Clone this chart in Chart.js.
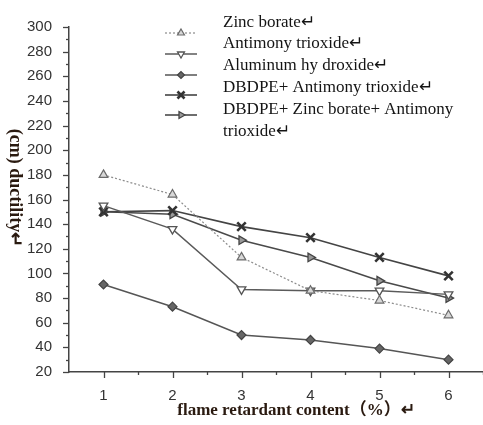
<!DOCTYPE html>
<html>
<head>
<meta charset="utf-8">
<script src="https://cdn.jsdelivr.net/npm/chart.js@4.4.1/dist/chart.umd.min.js"></script>
<style>
  html, body { margin: 0; padding: 0; background: #fff; }
  #wrap { position: relative; width: 483px; height: 425px; }
</style>
</head>
<body>
<div id="wrap"><canvas id="chart"></canvas></div>
<script>
// flame retardant content (%)
const contents = [1, 2, 3, 4, 5, 6];
const yTicks = [20, 40, 60, 80, 100, 120, 140, 160, 180, 200, 220, 240, 260, 280, 300];

const seriesNames = [
  "Zinc borate↵",
  "Antimony trioxide↵",
  "Aluminum hy droxide↵",
  "DBDPE+ Antimony trioxide↵",
  "DBDPE+ Zinc borate+ Antimony"
];
const zincBorate = [180, 164, 113, 86, 78, 66];
const antimonyTrioxide = [155, 136, 87, 86, 86, 83];
const aluminumHydroxide = [91, 73, 50, 46, 39, 30];
const dbdpeAntimony = [150, 151, 138, 129, 113, 98];
const dbdpeZincAntimony = [150, 148, 127, 113, 94, 80];

const toPoints = arr => arr.map((v, i) => ({ x: contents[i], y: v }));

const serif = '"Liberation Serif", "Times New Roman", "Noto Sans CJK SC", serif';
const sans = '"Liberation Sans", Arial, sans-serif';

// tick marks, legend and axis titles
const decorations = {
  id: "decorations",
  afterDraw(chart) {
    const ctx = chart.ctx;
    const xs = chart.scales.x, ys = chart.scales.y;
    const area = chart.chartArea;
    ctx.save();
    ctx.strokeStyle = "#444";
    ctx.lineWidth = 1.3;
    for (let v = 20; v <= 300; v += 10) {
      const y = Math.round(ys.getPixelForValue(v)) + 0.5;
      const len = v % 20 === 0 ? 6 : 3;
      ctx.beginPath();
      ctx.moveTo(area.left - len, y);
      ctx.lineTo(area.left, y);
      ctx.stroke();
    }
    for (let v = 1; v <= 6.5; v += 0.5) {
      const x = Math.round(xs.getPixelForValue(v)) + 0.5;
      const len = v % 1 === 0 ? 6 : 3;
      ctx.beginPath();
      ctx.moveTo(x, area.bottom);
      ctx.lineTo(x, area.bottom + len);
      ctx.stroke();
    }

    // legend
    const symY = [33, 54, 75, 95, 115];
    const textY = [23, 44, 66, 88, 110];
    chart.data.datasets.forEach((ds, i) => {
      ctx.save();
      ctx.strokeStyle = ds.borderColor;
      ctx.lineWidth = ds.borderWidth;
      ctx.setLineDash(ds.borderDash || []);
      ctx.beginPath();
      ctx.moveTo(165, symY[i]);
      ctx.lineTo(197, symY[i]);
      ctx.stroke();
      ctx.setLineDash([]);
      ctx.fillStyle = ds.pointBackgroundColor;
      ctx.strokeStyle = ds.pointBorderColor;
      ctx.lineWidth = ds.pointBorderWidth;
      Chart.helpers.drawPoint(ctx, {
        pointStyle: ds.pointStyle,
        rotation: ds.pointRotation || 0,
        radius: ds.pointRadius - 1,
        borderWidth: ds.pointBorderWidth
      }, 181, symY[i]);
      ctx.restore();
      ctx.fillStyle = "#141414";
      ctx.font = "17px " + serif;
      ctx.textBaseline = "middle";
      ctx.fillText(seriesNames[i], 223, textY[i]);
    });
    ctx.fillStyle = "#141414";
    ctx.font = "17px " + serif;
    ctx.textBaseline = "middle";
    ctx.fillText("trioxide↵", 223, 132);

    // axis titles
    ctx.font = "bold 17px " + serif;
    ctx.fillStyle = "#2a1a10";
    ctx.textAlign = "center";
    ctx.fillText("flame retardant content（%）↵", 296, 411);
    ctx.font = "bold 18px " + serif;
    ctx.translate(15, 188);
    ctx.rotate(Math.PI / 2);
    ctx.fillText("(cm) ductility↵", 0, 0);
    ctx.restore();
  }
};

const ctx = document.getElementById("chart").getContext("2d");
new Chart(ctx, {
  type: "line",
  data: {
    datasets: [
      {
        label: seriesNames[0],
        data: toPoints(zincBorate),
        borderColor: "#8c8c8c",
        borderWidth: 1.2,
        borderDash: [2, 2],
        pointStyle: "triangle",
        pointRadius: 5,
        pointBackgroundColor: "#d8d8d8",
        pointBorderColor: "#6a6a6a",
        pointBorderWidth: 1.2
      },
      {
        label: seriesNames[1],
        data: toPoints(antimonyTrioxide),
        borderColor: "#5a5a5a",
        borderWidth: 1.5,
        pointStyle: "triangle",
        pointRotation: 180,
        pointRadius: 5,
        pointBackgroundColor: "#ffffff",
        pointBorderColor: "#555",
        pointBorderWidth: 1.3
      },
      {
        label: seriesNames[2],
        data: toPoints(aluminumHydroxide),
        borderColor: "#555",
        borderWidth: 1.5,
        pointStyle: "rectRot",
        pointRadius: 4.5,
        pointBackgroundColor: "#666",
        pointBorderColor: "#444",
        pointBorderWidth: 1.2
      },
      {
        label: seriesNames[3],
        data: toPoints(dbdpeAntimony),
        borderColor: "#444",
        borderWidth: 1.6,
        pointStyle: "crossRot",
        pointRadius: 6,
        pointBackgroundColor: "#333",
        pointBorderColor: "#333",
        pointBorderWidth: 2.6
      },
      {
        label: seriesNames[4],
        data: toPoints(dbdpeZincAntimony),
        borderColor: "#4a4a4a",
        borderWidth: 1.6,
        pointStyle: "triangle",
        pointRotation: 90,
        pointRadius: 5,
        pointBackgroundColor: "#999",
        pointBorderColor: "#444",
        pointBorderWidth: 1.3
      }
    ]
  },
  options: {
    responsive: true,
    maintainAspectRatio: false,
    animation: false,
    layout: { autoPadding: false, padding: { top: 27, left: 0, right: 0, bottom: 0 } },
    plugins: {
      legend: { display: false },
      tooltip: { enabled: false }
    },
    scales: {
      x: {
        type: "linear",
        min: 0.5,
        max: 6.5,
        afterBuildTicks: scale => { scale.ticks = contents.map(v => ({ value: v })); },
        afterFit: scale => {
          scale.height = 53;
          scale.paddingLeft = 0;
          scale.paddingRight = 0;
        },
        grid: { display: false },
        border: { display: true, color: "#444", width: 1.5 },
        ticks: {
          padding: 7,
          color: "#333",
          font: { family: sans, size: 15 }
        }
      },
      y: {
        min: 20,
        max: 300,
        afterBuildTicks: scale => { scale.ticks = yTicks.map(v => ({ value: v })); },
        afterFit: scale => { scale.width = 69; },
        grid: { display: false },
        border: { display: true, color: "#444", width: 1.5 },
        ticks: {
          padding: 9,
          color: "#333",
          font: { family: sans, size: 15 }
        }
      }
    }
  },
  plugins: [decorations]
});
</script>
</body>
</html>
